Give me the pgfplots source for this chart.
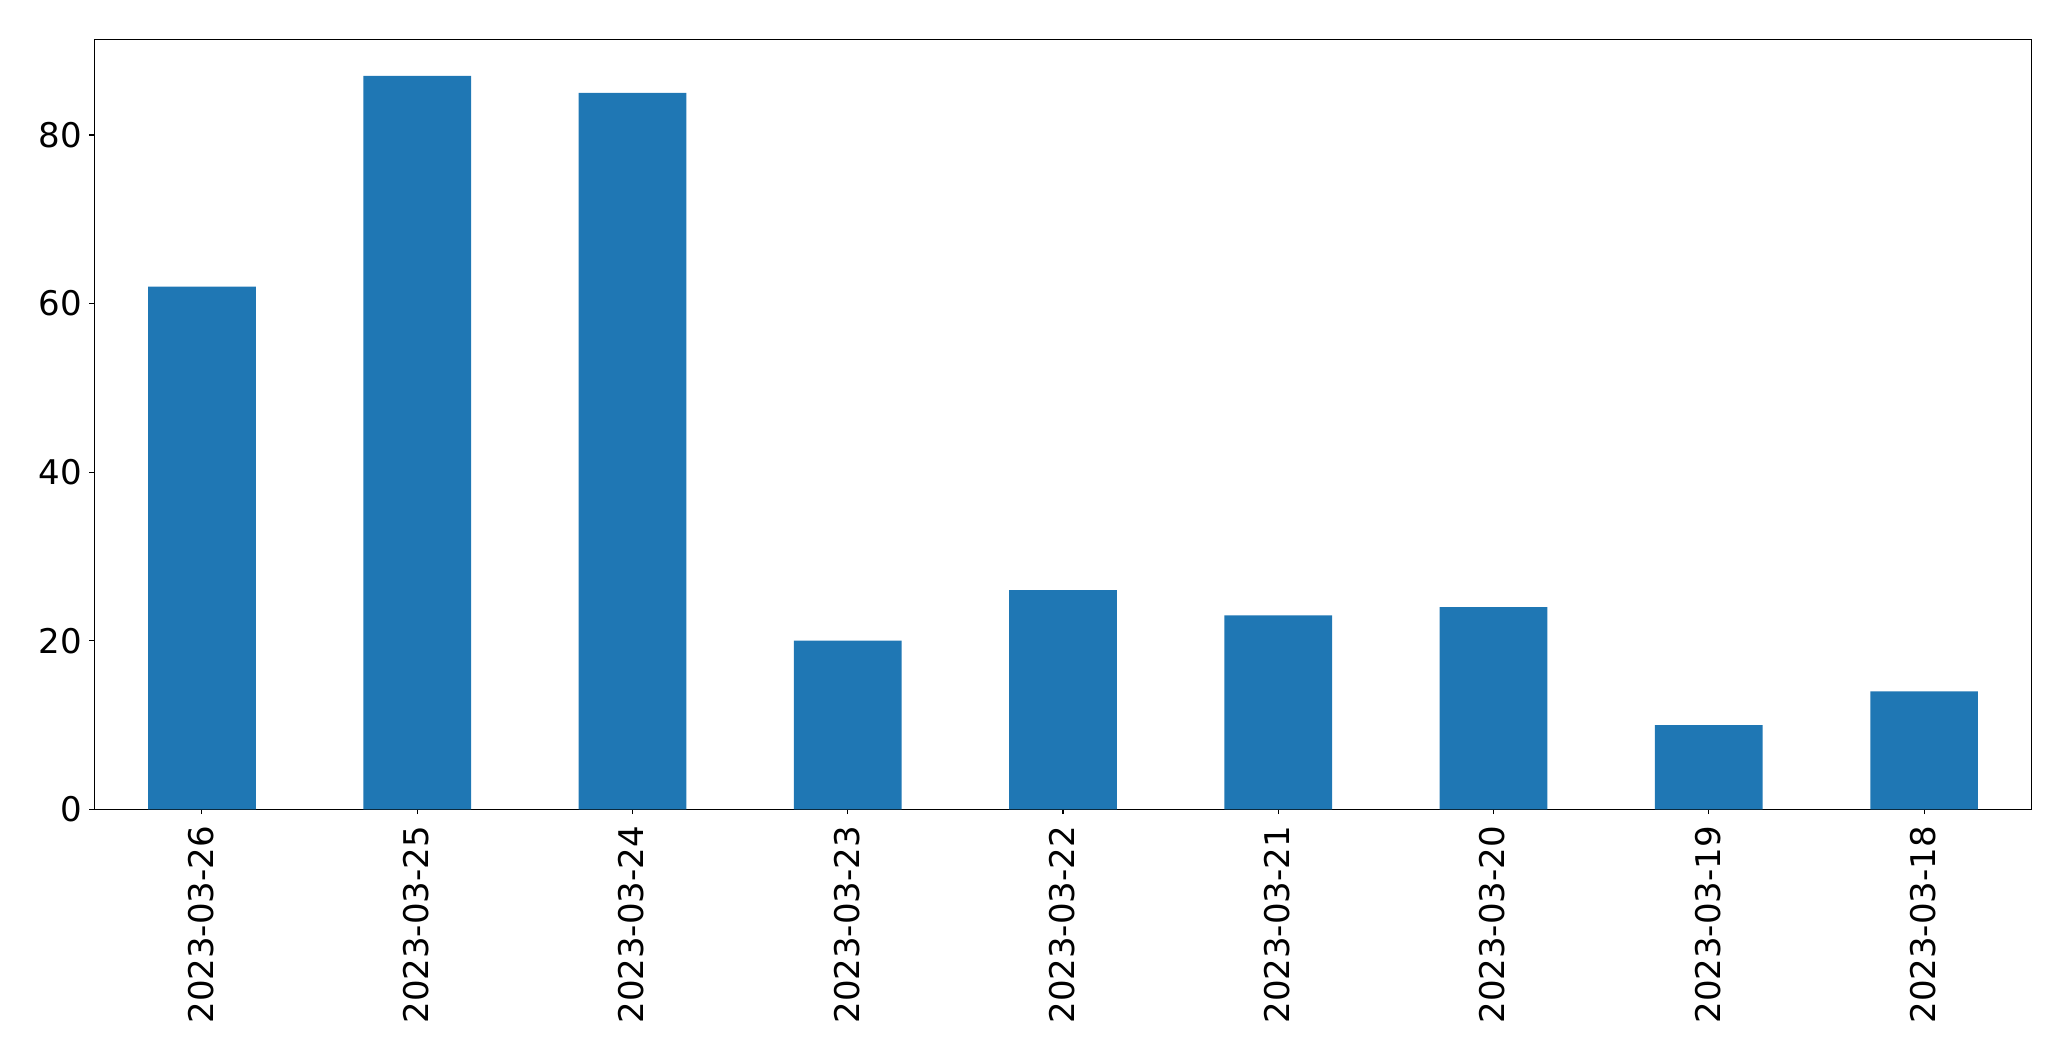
\documentclass[border=0pt]{standalone}
\usepackage{fontspec}
\setmainfont{DejaVu Sans}
\usepackage{pgfplots}
\pgfplotsset{compat=1.18}
\definecolor{mplblue}{RGB}{31,119,180}
\begin{document}
\fontsize{17}{20}\selectfont
\begin{tikzpicture}
\begin{axis}[
  at={(0,0)}, anchor=south west,
  scale only axis,
  width=968.7pt, height=385pt,
  xmin=-0.5, xmax=8.5,
  ymin=0, ymax=91.35,
  ytick={0,20,40,60,80},
  xtick={0,...,8},
  xticklabels={2023-03-26,2023-03-25,2023-03-24,2023-03-23,2023-03-22,2023-03-21,2023-03-20,2023-03-19,2023-03-18},
  xticklabel style={rotate=90, anchor=east, yshift=0.5pt},
  yticklabel style={xshift=2pt},
  tick align=outside,
  tick pos=left,
  major tick length=2.45pt,
  every tick/.style={black, line width=0.55pt},
  axis line style={line width=0.55pt},
  /pgf/number format/assume math mode=true,
  tick label style={font=\fontsize{17}{20}\selectfont},
]
\addplot[ybar, bar width=0.5, fill=mplblue, draw=none] coordinates {
  (0,62) (1,87) (2,85) (3,20) (4,26) (5,23) (6,24) (7,10) (8,14)
};
\end{axis}
\path (-47.15pt,-125.85pt) rectangle (988.35pt,404.65pt);
\end{tikzpicture}
\end{document}
